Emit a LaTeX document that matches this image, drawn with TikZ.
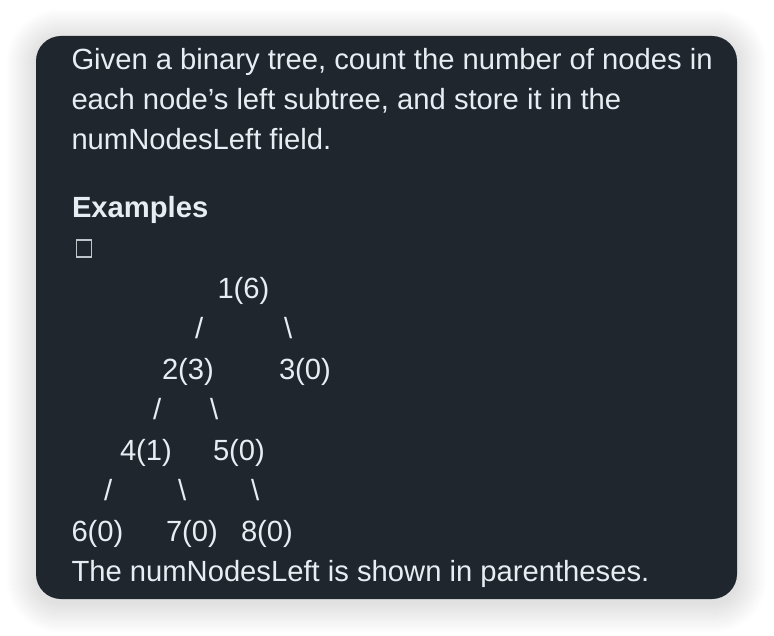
\documentclass[tikz,border=0pt]{standalone}
\usepackage{fontspec}
\setmainfont{Liberation Sans}
\definecolor{cardbg}{HTML}{1F262D}
\definecolor{cardfg}{HTML}{E6EDF3}
\definecolor{tofu}{HTML}{BFC4C9}
\tikzset{
  txt/.style={anchor=base west, inner sep=0pt, outer sep=0pt, text=cardfg,
    font=\fontsize{29.2}{40}\selectfont},
  boldtxt/.style={txt, font=\fontsize{29.2}{40}\selectfont\bfseries},
  shadowlayer/.style={fill=black, fill opacity=0.0042, draw=none},
}
\begin{document}
\begin{tikzpicture}[x=1pt,y=-1pt]
\useasboundingbox (0,0) rectangle (774,636);
\fill[white] (0,0) rectangle (774,636);
% soft shadow
\foreach \d in {1,...,30}{
  \fill[shadowlayer, rounded corners={24+\d}] (36-\d,39-\d) rectangle (737+\d,603+\d);
}
% card
\fill[cardbg, rounded corners=25] (36,36) rectangle (737,599);
% paragraph
\node[txt] (g1) at (71.5,70) {Given a binary tree, count the number of nodes in};
\node[txt] (g2) at (71.5,110) {each node’s left subtree, and store it in the};
\node[txt] (g3) at (71.5,149.5) {numNodesLeft field.};
\node[boldtxt] (ex) at (72,218) {Examples};
% missing-glyph box
\node[draw=tofu, line width=1.1pt, minimum width=15pt, minimum height=17pt,
  inner sep=0pt, anchor=north west] (tofu) at (75.5,239.5) {};
% tree
\node[txt] (n1) at (217.5,298.6) {1(6)};
\node[txt] (s1) at (195,339) {/};
\node[txt] (b1) at (284,339) {\textbackslash};
\node[txt] (n2) at (162,379.3) {2(3)};
\node[txt] (n3) at (279,379.3) {3(0)};
\node[txt] (s2) at (153,419.6) {/};
\node[txt] (b2) at (210,419.6) {\textbackslash};
\node[txt] (n4) at (120,460.5) {4(1)};
\node[txt] (n5) at (213,460.5) {5(0)};
\node[txt] (s3) at (104,500.5) {/};
\node[txt] (b3) at (178,500.5) {\textbackslash};
\node[txt] (b4) at (251,500.5) {\textbackslash};
\node[txt] (n6) at (71.5,541) {6(0)};
\node[txt] (n7) at (166,541) {7(0)};
\node[txt] (n8) at (241,541) {8(0)};
\node[txt] (last) at (71.5,581) {The numNodesLeft is shown in parentheses.};
\end{tikzpicture}
\end{document}
